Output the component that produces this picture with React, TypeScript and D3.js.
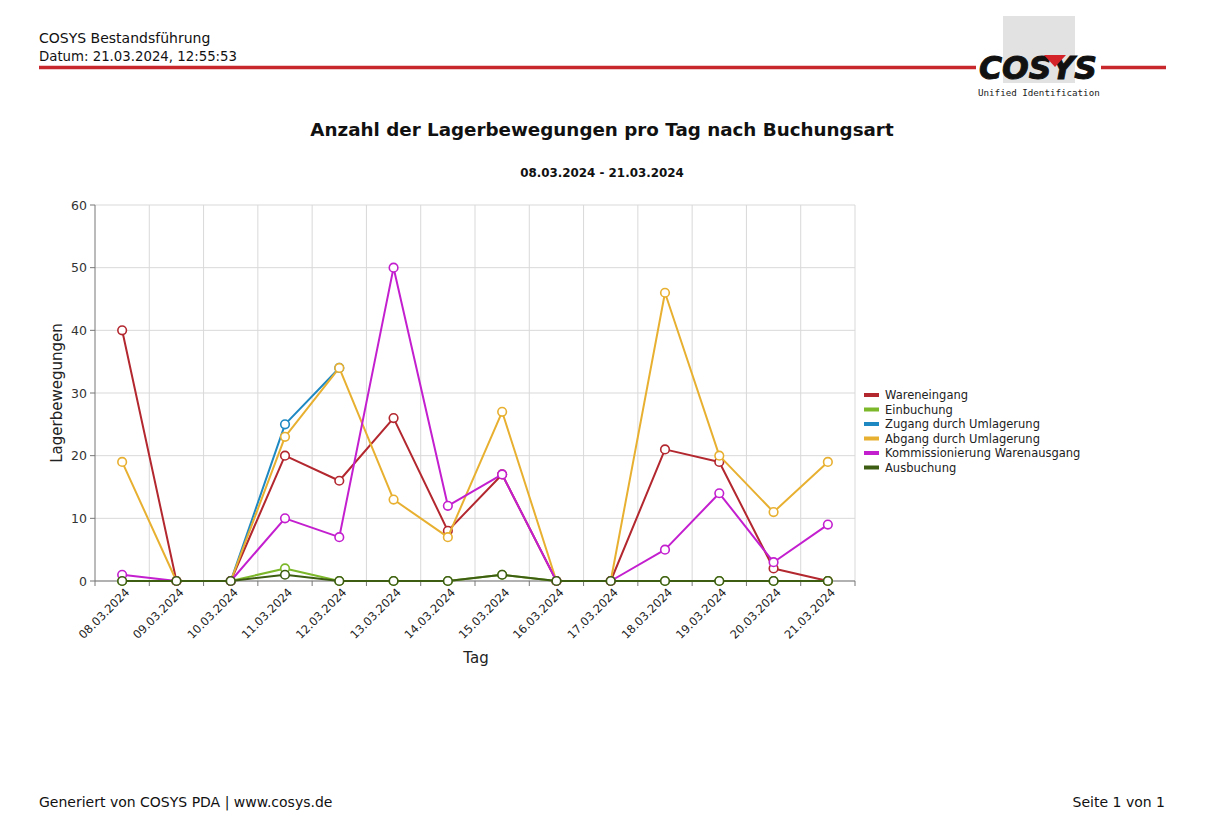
import React from "react";
import * as d3 from "d3";

const days = ["08.03.2024","09.03.2024","10.03.2024","11.03.2024","12.03.2024","13.03.2024","14.03.2024","15.03.2024","16.03.2024","17.03.2024","18.03.2024","19.03.2024","20.03.2024","21.03.2024"];
const yTicks = [0, 10, 20, 30, 40, 50, 60];

const wareneingang = [40, 0, 0, 20, 16, 26, 8, 17, 0, 0, 21, 19, 2, 0];
const einbuchung = [0, 0, 0, 2, 0, 0, 0, 1, 0, 0, 0, 0, 0, 0];
const zugangUmlagerung: (number | null)[] = [null, null, 0, 25, 34, null, null, null, null, null, null, null, null, null];
const abgangUmlagerung = [19, 0, 0, 23, 34, 13, 7, 27, 0, 0, 46, 20, 11, 19];
const kommissionierung = [1, 0, 0, 10, 7, 50, 12, 17, 0, 0, 5, 14, 3, 9];
const ausbuchung = [0, 0, 0, 1, 0, 0, 0, 1, 0, 0, 0, 0, 0, 0];

const seriesNames = ["Wareneingang", "Einbuchung", "Zugang durch Umlagerung", "Abgang durch Umlagerung", "Kommissionierung Warenausgang", "Ausbuchung"];
const seriesColors = ["#b3272f", "#7cb82a", "#1e88c2", "#e8b030", "#c31fcf", "#3d5e12"];
const seriesValues = [wareneingang, einbuchung, zugangUmlagerung, abgangUmlagerung, kommissionierung, ausbuchung];

const FONT = "'DejaVu Sans', sans-serif";

export default function App() {
  const left = 95, right = 855, top = 205, bottom = 581;
  const x = d3.scaleBand<string>().domain(days).range([left, right]).padding(0);
  const y = d3.scaleLinear().domain([0, 60]).range([bottom, top]);
  const cx = (d: string) => (x(d) as number) + x.bandwidth() / 2;

  const line = d3
    .line<number | null>()
    .defined((v) => v !== null)
    .x((_, i) => cx(days[i]))
    .y((v) => y(v as number));

  const boundaries = days.map((d) => (x(d) as number) + x.bandwidth());

  return (
    <svg width={1215} height={836} style={{ position: "absolute", left: 0, top: 0, background: "#fff" }} fontFamily={FONT}>
      <rect x={0} y={0} width={1215} height={836} fill="#fff" />
      {/* Header */}
      <text x={39} y={43} fontSize={14} fill="#111">COSYS Bestandsführung</text>
      <text x={39} y={61} fontSize={13.3} fill="#111">Datum: 21.03.2024, 12:55:53</text>
      <line x1={39} x2={976} y1={67.5} y2={67.5} stroke="#c8282c" strokeWidth={3.5} />
      <line x1={1101} x2={1166} y1={67.5} y2={67.5} stroke="#c8282c" strokeWidth={3.5} />
      {/* Logo */}
      <rect x={1003} y={16} width={72} height={67} fill="#e2e2e2" />
      <text x={979} y={79} fontSize={32} fontWeight="bold" fontStyle="italic" fill="#111" textLength={118} lengthAdjust="spacingAndGlyphs" fontFamily="'DejaVu Sans', sans-serif" stroke="#111" strokeWidth={1}>COSYS</text>
      <path d="M1044,55 L1066,55 L1055,67 Z" fill="#d4242a" />
      <text x={978} y={96} fontSize={9.2} fill="#222" fontFamily="'DejaVu Sans Mono', monospace">Unified Identification</text>

      {/* Titles */}
      <text x={602} y={136} textAnchor="middle" fontSize={18.3} fontWeight="bold" fill="#111">Anzahl der Lagerbewegungen pro Tag nach Buchungsart</text>
      <text x={602} y={177} textAnchor="middle" fontSize={11.9} fontWeight="bold" fill="#111">08.03.2024 - 21.03.2024</text>

      {/* Grid */}
      {yTicks.map((t) => (
        <line key={"gy" + t} x1={left} x2={right} y1={y(t)} y2={y(t)} stroke="#d9d9d9" strokeWidth={1} />
      ))}
      {boundaries.map((b, i) => (
        <line key={"gx" + i} x1={b} x2={b} y1={top} y2={bottom} stroke="#d9d9d9" strokeWidth={1} />
      ))}

      {/* Axes */}
      <line x1={left} x2={left} y1={top} y2={bottom + 5} stroke="#777" strokeWidth={1} />
      <line x1={left} x2={right} y1={bottom} y2={bottom} stroke="#777" strokeWidth={1} />
      {yTicks.map((t) => (
        <g key={"yt" + t}>
          <line x1={left - 5} x2={left} y1={y(t)} y2={y(t)} stroke="#777" />
          <text x={left - 8} y={y(t) + 4.5} textAnchor="end" fontSize={12.5} fill="#333">{t}</text>
        </g>
      ))}
      {boundaries.map((b, i) => (
        <line key={"xt" + i} x1={b} x2={b} y1={bottom} y2={bottom + 5} stroke="#777" />
      ))}
      {days.map((d) => (
        <text key={"xl" + d} transform={`translate(${cx(d) + 8},${bottom + 12}) rotate(-45)`} textAnchor="end" fontSize={11.5} fill="#222">{d}</text>
      ))}
      <text transform={`translate(62,${(top + bottom) / 2}) rotate(-90)`} textAnchor="middle" fontSize={15} fill="#222">Lagerbewegungen</text>
      <text x={476} y={663} textAnchor="middle" fontSize={15} fill="#222">Tag</text>

      {/* Series */}
      {seriesValues.map((vals, si) => (
        <g key={"s" + si}>
          <path d={line(vals as (number | null)[]) || ""} fill="none" stroke={seriesColors[si]} strokeWidth={2} strokeLinejoin="round" />
          {vals.map((v, i) =>
            v === null ? null : (
              <circle key={i} cx={cx(days[i])} cy={y(v as number)} r={4.3} fill="#fff" stroke={seriesColors[si]} strokeWidth={1.6} />
            )
          )}
        </g>
      ))}

      {/* Legend */}
      {seriesNames.map((n, i) => (
        <g key={"lg" + n} transform={`translate(864,${395 + i * 14.5})`}>
          <rect x={0} y={-2} width={15} height={4} fill={seriesColors[i]} />
          <text x={21} y={4} fontSize={11.5} fill="#222">{n}</text>
        </g>
      ))}

      {/* Footer */}
      <text x={39} y={807} fontSize={14} fill="#111">Generiert von COSYS PDA | www.cosys.de</text>
      <text x={1165} y={807} textAnchor="end" fontSize={14} fill="#111">Seite 1 von 1</text>
    </svg>
  );
}
